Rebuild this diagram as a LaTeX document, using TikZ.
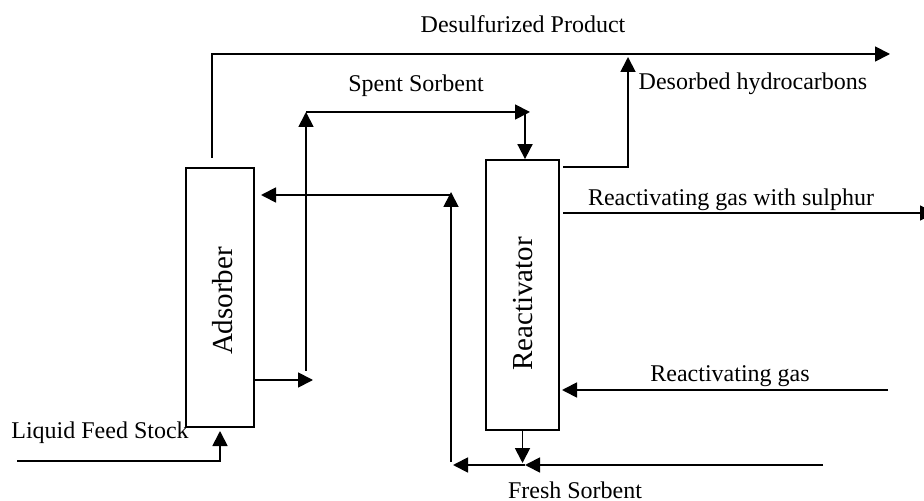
\documentclass[tikz,border=0pt]{standalone}
\usepackage{fontspec}
\setmainfont{Liberation Serif}
\usetikzlibrary{arrows.meta}
\tikzset{
  unit/.style={draw, line width=0.9pt, inner sep=0pt, fill=white},
  flow/.style={line width=0.9pt, -{Triangle[length=7.5pt,width=7.5pt]}},
  lbl/.style={font=\fontsize{12}{14}\selectfont, inner sep=0pt},
  boxlbl/.style={font=\fontsize{14.5}{17}\selectfont, inner sep=0pt, rotate=90}
}
\begin{document}
\begin{tikzpicture}[x=0.5pt,y=-0.5pt]
\useasboundingbox (0,0) rectangle (924,501);
% units
\node[unit, minimum width=34pt, minimum height=129.5pt] (ads) at (220,297.5) {};
\node[unit, minimum width=36.5pt, minimum height=135pt] (rea) at (522.5,295) {};
\node[boxlbl] (adsT) at (223,301) {Adsorber};
\node[boxlbl] (reaT) at (523,304) {Reactivator};
% free ends
\coordinate (dpS) at (212,158);
\coordinate (dpC) at (212,54);
\coordinate (dpE) at (890,54);
\coordinate (ssB) at (306,371);
\coordinate (ssT) at (306,112);
\coordinate (ssE) at (530,112);
\coordinate (ssD) at (525,112);
\coordinate (dhS) at (563,167);
\coordinate (dhC) at (628,167);
\coordinate (dhE) at (628,57);
\coordinate (rgsS) at (563,213);
\coordinate (rgsE) at (935,213);
\coordinate (rcB) at (451,462);
\coordinate (rcT) at (451,192);
\coordinate (rcH) at (451,195);
\coordinate (rcE) at (261,195);
\coordinate (fsS) at (823,465);
\coordinate (fsM) at (525,465);
\coordinate (fsE) at (453,465);
\coordinate (rgS) at (888,390);
\coordinate (rgE) at (562,390);
\coordinate (lfS) at (17,461);
\coordinate (lfC) at (220,461);
\coordinate (lfE) at (220,431);
\coordinate (aoS) at (254,380);
\coordinate (aoE) at (313,380);
% connectors
\draw[flow] (dpS) -- (dpC) -- (dpE);
\draw[flow] (aoS) -- (aoE);
\draw[flow] (ssB) -- (ssT);
\draw[flow] (ssT) -- (ssE);
\draw[flow] (ssD) -- (ssD |- rea.north);
\draw[flow] (dhS) -- (dhC) -- (dhE);
\draw[flow] (rgsS) -- (rgsE);
\draw[flow] (rcB) -- (rcT);
\draw[flow] (rcH) -- (rcE);
\draw[flow] (rea.south) -- (rea.south |- 0,463);
\draw[flow] (fsS) -- (fsM);
\draw[flow] (fsM) -- (fsE);
\draw[flow] (rgS) -- (rgE);
\draw[flow] (lfS) -- (lfC) -- (lfE);
% labels
\node[lbl] (t1) at (523,24) {Desulfurized Product};
\node[lbl] (t2) at (416,86) {Spent Sorbent};
\node[lbl] (t3) at (753,84) {Desorbed hydrocarbons};
\node[lbl] (t4) at (731,200) {Reactivating gas with sulphur};
\node[lbl] (t5) at (730,376) {Reactivating gas};
\node[lbl] (t6) at (575,490) {Fresh Sorbent};
\node[lbl] (t7) at (100,433) {Liquid Feed Stock};
\end{tikzpicture}
\end{document}
